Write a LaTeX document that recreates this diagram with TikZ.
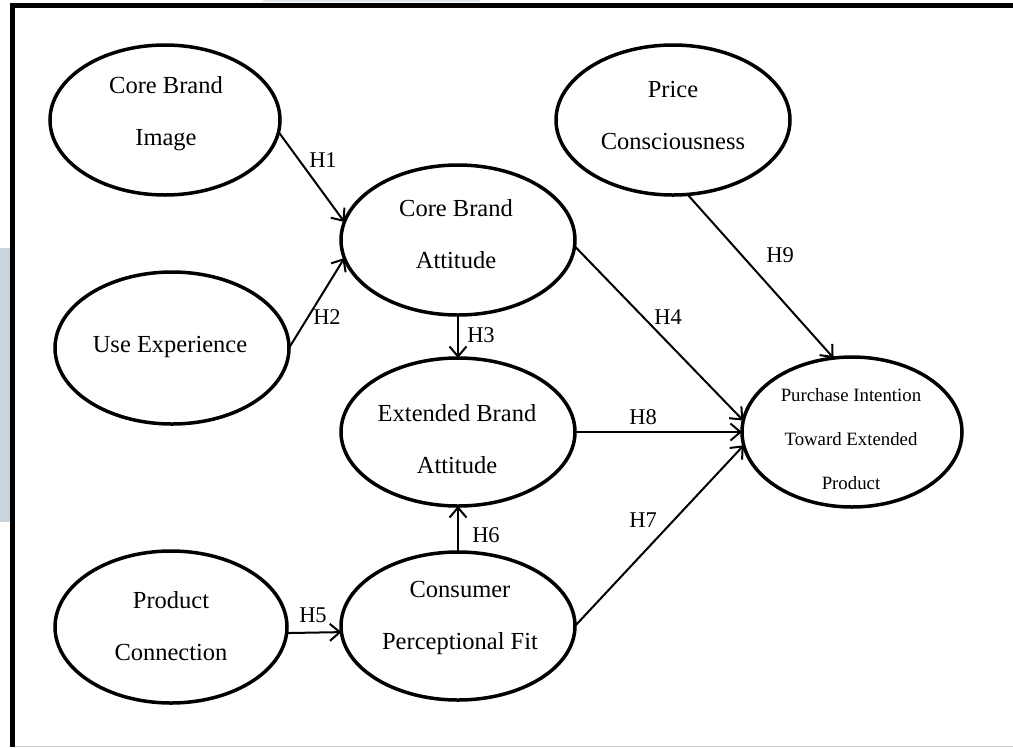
\documentclass[tikz,border=0pt]{standalone}
\usepackage{fontspec}
\setmainfont{Liberation Serif}
\usetikzlibrary{shapes.geometric,arrows.meta}
\begin{document}
\begin{tikzpicture}[x=1pt,y=-1pt,
  latent/.style={ellipse,draw,line width=3.5pt,inner sep=0pt,outer sep=0pt,minimum width=232pt,minimum height=150pt},
  ltxt/.style={align=center,inner sep=0pt,font=\fontsize{24.5}{52}\selectfont},
  stxt/.style={align=center,inner sep=0pt,font=\fontsize{18.8}{44}\selectfont},
  hl/.style={inner sep=0pt,font=\fontsize{22.5}{22.5}\selectfont},
  conn/.style={line width=2pt,-{Straight Barb[length=10pt,width=17pt]}}]
\useasboundingbox (0,0) rectangle (1013,748);
% background strips and frame
\fill[fill={rgb,255:red,200;green,213;blue,222}] (0,248) rectangle (10,522);
\fill[fill={rgb,255:red,222;green,230;blue,236}] (263,0) rectangle (480,1.8);
\draw[line width=0.8pt,draw={rgb,255:red,200;green,200;blue,200}] (12,746.5) -- (1013,746.5);
\draw[line width=5pt] (12.5,747) -- (12.5,5.5) -- (1013,5.5);
% ellipses
\node[latent,minimum width=230pt] (cbi) at (165,120) {};
\node[latent,minimum width=234pt] (pcs) at (673,120) {};
\node[latent,minimum width=234pt] (cba) at (458,240) {};
\node[latent,minimum width=234pt,minimum height=152pt] (ue) at (172,348) {};
\node[latent,minimum width=234pt,minimum height=148pt] (eba) at (458,432) {};
\node[latent,minimum width=220pt] (pi) at (852,432) {};
\node[latent,minimum width=234pt,minimum height=148pt] (cpf) at (458,626) {};
\node[latent,minimum height=152pt] (prc) at (171,627) {};
% texts
\node[ltxt] (cbit) at (166,114) {Core Brand\\Image};
\node[ltxt] (pcst) at (673,116) {Price\\Consciousness};
\node[ltxt] (cbat) at (456,234) {Core Brand\\Attitude};
\node[ltxt] (uet) at (170,347) {Use Experience};
\node[ltxt] (ebat) at (457,439) {Extended Brand\\Attitude};
\node[ltxt] (cpft) at (460,618) {Consumer\\Perceptional Fit};
\node[ltxt] (prct) at (171,626) {Product\\Connection};
\node[stxt] (pit) at (851,439) {Purchase Intention\\Toward Extended\\Product};
% connectors
\draw[conn] (cbi.-6) -- (cba.171);
\draw[conn] (ue.0) -- (cba.-171);
\draw[conn] (cba.south) -- (eba.north);
\draw[conn] (cba.-3.5) -- (pi.174);
\draw[conn] (pcs.-79) -- (pi.104);
\draw[conn] (eba.east) -- (pi.west);
\draw[conn] (cpf.0) -- (pi.-173.4);
\draw[conn] (prc.-3) -- (cpf.183.5);
\draw[conn] (cpf.north) -- (eba.south);
% labels
\node[hl] (h1) at (323,160) {H1};
\node[hl] (h2) at (327,317) {H2};
\node[hl] (h3) at (481,335) {H3};
\node[hl] (h4) at (668,317) {H4};
\node[hl] (h9) at (780,255) {H9};
\node[hl] (h8) at (643,417) {H8};
\node[hl] (h7) at (643,520) {H7};
\node[hl] (h6) at (486,535) {H6};
\node[hl] (h5) at (313,615) {H5};
\end{tikzpicture}
\end{document}
